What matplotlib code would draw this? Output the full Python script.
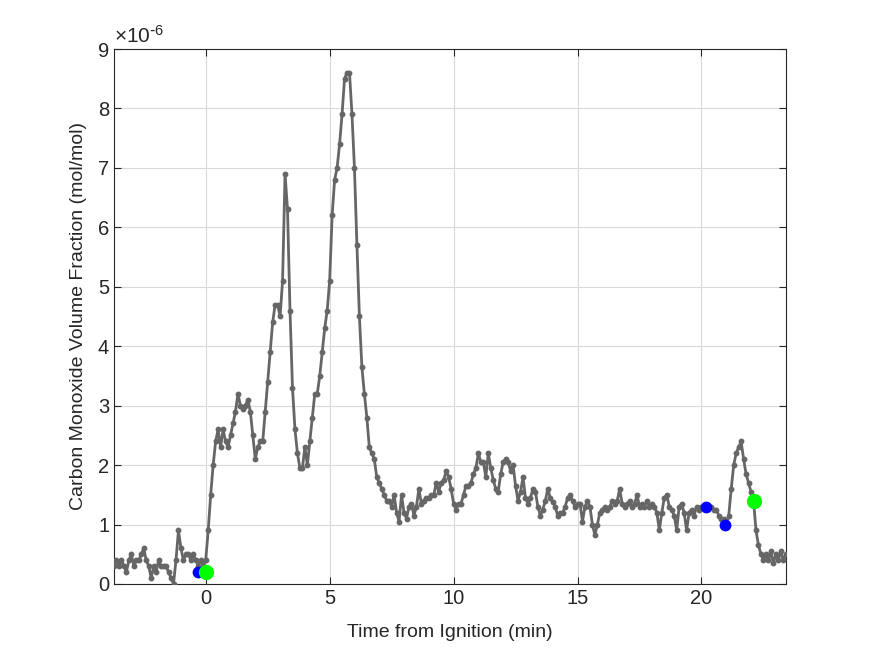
import numpy as np
import matplotlib
matplotlib.use("Agg")
import matplotlib.pyplot as plt

# CO volume fraction in units of 1e-6 mol/mol, one reading every 0.1 min from -3.7 min
t_start = -3.7
t_step = 0.1
co_micro = [
    0.3, 0.4, 0.3, 0.4, 0.3, 0.2, 0.4, 0.5, 0.3, 0.4,      # -3.7 .. -2.8
    0.4, 0.5, 0.6, 0.4, 0.3, 0.1, 0.3, 0.2, 0.4, 0.3,      # -2.7 .. -1.8
    0.3, 0.3, 0.2, 0.1, 0.0, 0.4, 0.9, 0.6, 0.4, 0.5,      # -1.7 .. -0.8
    0.5, 0.4, 0.5, 0.4, 0.3, 0.4, 0.3,                     # -0.7 .. -0.1
    0.4, 0.9, 1.5, 2.0, 2.4, 2.6, 2.3, 2.6, 2.4, 2.3,      # 0.0 .. 0.9
    2.5, 2.7, 2.9, 3.2, 3.0, 2.95, 3.0, 3.1, 2.9, 2.5,     # 1.0 .. 1.9
    2.1, 2.3, 2.4, 2.4, 2.9, 3.4, 3.9, 4.4, 4.7, 4.7,      # 2.0 .. 2.9
    4.5, 5.1, 6.9, 6.3, 4.6, 3.3, 2.6, 2.2, 1.95, 1.95,    # 3.0 .. 3.9
    2.3, 2.0, 2.4, 2.8, 3.2, 3.2, 3.5, 3.9, 4.3, 4.6,      # 4.0 .. 4.9
    5.1, 6.2, 6.8, 7.0, 7.4, 7.9, 8.5, 8.6, 8.6, 7.9,      # 5.0 .. 5.9
    7.0, 5.7, 4.5, 3.65, 3.2, 2.8, 2.3, 2.2, 2.1, 1.8,     # 6.0 .. 6.9
    1.7, 1.6, 1.5, 1.4, 1.4, 1.3, 1.5, 1.2, 1.05, 1.5,     # 7.0 .. 7.9
    1.2, 1.1, 1.3, 1.35, 1.15, 1.3, 1.6, 1.35, 1.4, 1.45,  # 8.0 .. 8.9
    1.45, 1.5, 1.5, 1.7, 1.55, 1.7, 1.75, 1.9, 1.8, 1.6,   # 9.0 .. 9.9
    1.35, 1.25, 1.35, 1.35, 1.5, 1.65, 1.65, 1.7, 1.85, 1.95,  # 10.0 .. 10.9
    2.2, 2.05, 2.05, 1.8, 2.2, 1.95, 1.75, 1.6, 1.55, 1.85,    # 11.0 .. 11.9
    2.05, 2.1, 2.05, 1.9, 2.0, 1.65, 1.4, 1.55, 1.8, 1.45,     # 12.0 .. 12.9
    1.35, 1.45, 1.6, 1.55, 1.3, 1.15, 1.25, 1.4, 1.6, 1.45,    # 13.0 .. 13.9
    1.38, 1.3, 1.15, 1.2, 1.2, 1.3, 1.45, 1.5, 1.4, 1.3,       # 14.0 .. 14.9
    1.35, 1.35, 1.05, 1.3, 1.4, 1.3, 1.0, 0.82, 1.0, 1.2,      # 15.0 .. 15.9
    1.25, 1.3, 1.25, 1.3, 1.4, 1.35, 1.4, 1.6, 1.35, 1.3,      # 16.0 .. 16.9
    1.35, 1.4, 1.3, 1.35, 1.5, 1.3, 1.35, 1.3, 1.4, 1.3,       # 17.0 .. 17.9
    1.35, 1.3, 1.2, 0.9, 1.2, 1.45, 1.5, 1.3, 1.25, 1.15,      # 18.0 .. 18.9
    0.9, 1.3, 1.35, 1.2, 0.9, 1.2, 1.25, 1.15, 1.3, 1.25,      # 19.0 .. 19.9
    1.3, 1.3, 1.3, 1.3, 1.3, 1.25, 1.25, 1.15, 1.1, 1.1,       # 20.0 .. 20.9
    1.0, 1.15, 1.6, 2.0, 2.2, 2.3, 2.4, 2.1, 1.85, 1.7,        # 21.0 .. 21.9
    1.55, 1.4, 0.9, 0.65, 0.5, 0.4, 0.5, 0.4, 0.55, 0.35,      # 22.0 .. 22.9
    0.5, 0.4, 0.55, 0.4, 0.5,                                  # 23.0 .. 23.4
]

# highlighted readings
blue_t = [-0.3, 20.2, 20.95]
blue_co = [0.2, 1.3, 1.0]
green_t = [0.0, 22.1]
green_co = [0.2, 1.4]

x_ticks = [0, 5, 10, 15, 20]
y_ticks = [0, 1, 2, 3, 4, 5, 6, 7, 8, 9]

t = t_start + t_step * np.arange(len(co_micro))

plt.rcParams["font.family"] = ["Liberation Sans", "DejaVu Sans"]
plt.rcParams["mathtext.default"] = "regular"

ax_col = (0.15, 0.15, 0.15)
fig = plt.figure(figsize=(8.75, 6.56), dpi=100)
ax = fig.add_axes([0.1303, 0.1098, 0.7677, 0.8155])

ax.plot(t, co_micro, "-o", color=(0.4, 0.4, 0.4), lw=2.0, ms=3.2, zorder=3)
ax.plot(blue_t, blue_co, "o", color="#0000ff", ms=7.5, zorder=4, ls="none")
ax.plot(green_t, green_co, "o", color="#00ff00", ms=10, zorder=5, ls="none")

ax.set_xlim(-3.7, 23.4)
ax.set_ylim(0, 9)
ax.set_xticks(x_ticks)
ax.set_yticks(y_ticks)
ax.grid(True, color=(0.85, 0.85, 0.85), lw=0.8)
ax.set_axisbelow(True)
ax.tick_params(direction="in", top=True, right=True, length=5, width=0.8,
               colors=ax_col, labelsize=14.5)
for s in ax.spines.values():
    s.set_color(ax_col)
    s.set_linewidth(0.8)

ax.set_xlabel("Time from Ignition (min)", fontsize=14, color=ax_col, labelpad=12)
ax.set_ylabel("Carbon Monoxide Volume Fraction (mol/mol)", fontsize=14,
              color=ax_col, labelpad=8)
ax.text(0.0, 1.004, r"$\times10^{\text{-}6}$", transform=ax.transAxes, fontsize=15,
        color=ax_col, ha="left", va="bottom")

fig.savefig("out.png", dpi=100)
